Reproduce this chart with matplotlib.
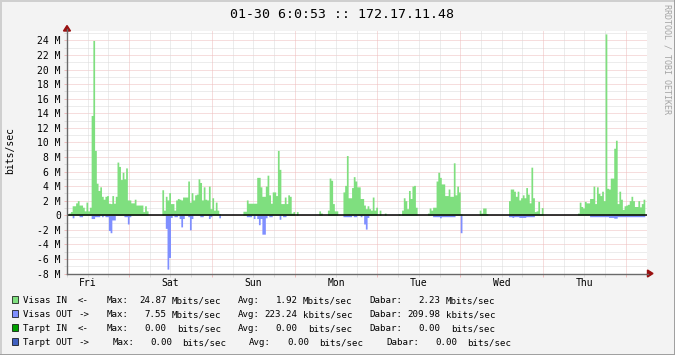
import numpy as np
import matplotlib
matplotlib.use('Agg')
import matplotlib.pyplot as plt
from matplotlib.patches import Polygon, Rectangle
from matplotlib.lines import Line2D

# half-hour samples over one week, in Mbits/sec
VISAS_IN = [
    0.1, 0.3, 0.5, 1.3, 1.3, 1.7, 2.0, 1.4, 1.4, 1.1, 0.6, 1.8,
    0.6, 1.1, 13.7, 24.0, 8.9, 4.4, 3.4, 3.9, 2.6, 2.2, 2.6, 2.7,
    1.65, 1.6, 2.7, 1.65, 2.6, 7.3, 6.7, 4.9, 5.9, 5.0, 6.5, 2.1,
    2.1, 1.7, 1.7, 2.2, 1.4, 1.4, 1.4, 1.4, 0.5, 1.3, 0.6, 0,
    0, 0, 0, 0, 0, 0, 0, 3.5, 0.7, 2.6, 2.1, 3.1,
    1.6, 1.6, 0.7, 2.1, 2.3, 2.2, 2.1, 2.5, 2.5, 2.5, 4.7, 1.8,
    3.1, 2.1, 2.8, 2.9, 5.0, 4.5, 2.1, 3.9, 2.2, 2.1, 4.0, 0.9,
    2.4, 0.7, 1.8, 0.7, 0.2, 0, 0, 0, 0, 0, 0, 0,
    0, 0, 0, 0, 0, 0, 0.55, 0.55, 2.1, 1.65, 1.65, 1.65,
    1.65, 1.65, 5.2, 5.2, 3.9, 2.6, 2.6, 4.0, 5.5, 2.8, 1.65, 3.2,
    3.2, 2.7, 8.9, 6.3, 1.6, 1.6, 2.5, 1.6, 2.8, 2.6, 0.3, 0.5,
    0, 0.5, 0, 0, 0, 0, 0, 0, 0, 0, 0, 0,
    0, 0, 0.6, 0.3, 0, 0, 0, 0.7, 5.1, 4.8, 1.6, 0.6,
    0.6, 0, 0, 0, 3.2, 4.1, 8.2, 2.4, 2.4, 3.8, 5.3, 4.7,
    3.9, 3.9, 2.3, 2.3, 1.4, 0.9, 1.3, 0.9, 0.7, 2.5, 0.7, 1.1,
    0, 0.7, 0, 0, 0.3, 0, 0, 0, 0, 0, 0, 0,
    0.2, 0, 0.7, 2.4, 2.0, 0.9, 3.4, 2.3, 4.0, 4.1, 1.1, 0,
    0, 0, 0, 0, 0, 0.3, 1.0, 0.7, 1.1, 1.1, 4.7, 5.9,
    5.2, 4.3, 4.3, 2.7, 2.7, 3.6, 2.6, 2.6, 7.2, 2.8, 4.0, 3.2,
    0.2, 0, 0, 0, 0, 0, 0, 0, 0, 0, 0, 0.7,
    0.3, 1.0, 1.0, 0.2, 0, 0, 0, 0, 0, 0, 0, 0,
    0, 0, 0, 0, 2.0, 3.6, 3.6, 3.3, 2.6, 3.3, 2.1, 2.4,
    2.8, 2.4, 3.8, 2.9, 1.7, 6.6, 2.4, 0.5, 0.6, 1.9, 0.2, 1.05,
    0, 0, 0, 0, 0, 0, 0, 0, 0, 0, 0, 0,
    0, 0, 0, 0, 0, 0, 0, 0, 0.3, 1.8, 1.2, 1.0,
    1.9, 1.7, 1.7, 2.3, 2.3, 4.0, 1.6, 3.9, 3.0, 2.7, 3.3, 2.0,
    24.9, 3.7, 3.6, 5.1, 5.1, 9.2, 10.3, 1.6, 3.3, 2.2, 0.8, 1.3,
    1.4, 1.5, 2.0, 2.6, 2.0, 1.2, 1.2, 2.0, 1.15, 1.6, 2.2, 0,
]
VISAS_OUT = [
    0, 0, 0, 0.35, 0, 0, 0, 0.2, 0.2, 0, 0, 0,
    0, 0, 0.45, 0.45, 0.2, 0.2, 0.2, 0, 0.2, 0, 0.2, 0.2,
    2.1, 2.4, 0.65, 0.65, 0, 0, 0, 0, 0, 0.2, 0.2, 1.2,
    0.2, 0, 0, 0, 0, 0, 0, 0, 0, 0, 0, 0,
    0, 0, 0, 0, 0, 0, 0, 0, 0, 1.8, 7.4, 5.8,
    0.3, 0, 0.2, 0.2, 0, 0.45, 1.6, 0.45, 0, 0, 0.2, 2.0,
    0.45, 0, 0, 0, 0, 0.2, 0.2, 0, 0, 0, 0.45, 0.2,
    0, 0, 0, 0, 0.35, 0, 0, 0, 0, 0, 0, 0,
    0, 0, 0, 0, 0, 0, 0, 0, 0.2, 0.2, 0.2, 0,
    0.45, 0, 0.45, 1.3, 0.45, 2.6, 2.6, 0.35, 0, 0.2, 0.2, 0,
    0, 0, 0, 0.55, 0, 0.2, 0.2, 0, 0, 0, 0, 0,
    0, 0, 0, 0, 0, 0, 0, 0, 0, 0, 0, 0,
    0, 0, 0, 0, 0, 0, 0, 0, 0, 0, 0, 0,
    0, 0, 0, 0, 0.2, 0.2, 0.2, 0.2, 0.2, 0, 0.2, 0.2,
    0, 0, 0.2, 0, 1.2, 1.9, 0.3, 0, 0, 0, 0, 0,
    0, 0, 0, 0, 0, 0, 0, 0, 0, 0, 0, 0,
    0, 0, 0, 0, 0, 0, 0, 0, 0, 0, 0, 0,
    0, 0, 0, 0, 0, 0, 0, 0, 0.2, 0.2, 0.2, 0.2,
    0.35, 0.2, 0.2, 0.2, 0.2, 0.2, 0.2, 0.2, 0.2, 0, 0, 0,
    2.4, 0, 0, 0, 0, 0, 0, 0, 0, 0, 0, 0,
    0, 0, 0, 0, 0, 0, 0, 0, 0, 0, 0, 0,
    0, 0, 0, 0, 0.2, 0.2, 0.3, 0.2, 0.2, 0.2, 0.3, 0.3,
    0.3, 0.3, 0.2, 0.2, 0.2, 0.2, 0.2, 0, 0, 0, 0, 0,
    0, 0, 0, 0, 0, 0, 0, 0, 0, 0, 0, 0,
    0, 0, 0, 0, 0, 0, 0, 0, 0, 0, 0, 0,
    0, 0, 0, 0.2, 0.2, 0.2, 0.2, 0.2, 0.2, 0.2, 0.2, 0.2,
    0.2, 0.2, 0.3, 0.3, 0.3, 0.4, 0.4, 0.2, 0.2, 0.2, 0.2, 0.2,
    0.2, 0.2, 0.2, 0.2, 0.2, 0.2, 0.2, 0.2, 0.2, 0.2, 0.2, 0,
]
DAYS = ['Fri', 'Sat', 'Sun', 'Mon', 'Tue', 'Wed', 'Thu']
YTICKS = list(range(-8, 25, 2))

TITLE = '01-30 6:0:53 :: 172.17.11.48'
NAMES = ['Visas IN', 'Visas OUT', 'Tarpt IN', 'Tarpt OUT']
ARROWS = ['<-', '->', '<-', '->']
COLORS = ['#7fdf7f', '#7f8fff', '#00a000', '#4060c0']
MAX_VAL = [('24.87', 'Mbits/sec'), ('7.55', 'Mbits/sec'), ('0.00', 'bits/sec'), ('0.00', 'bits/sec')]
AVG_VAL = [('1.92', 'Mbits/sec'), ('223.24', 'kbits/sec'), ('0.00', 'bits/sec'), ('0.00', 'bits/sec')]
CUR_VAL = [('2.23', 'Mbits/sec'), ('209.98', 'kbits/sec'), ('0.00', 'bits/sec'), ('0.00', 'bits/sec')]

W, H = 675, 355
MONO = 'DejaVu Sans Mono'
GRID = '#dadada'
MGRID = '#efbcbc'
AXIS = '#6a6a6a'
ARROWC = '#9a1010'

fig = plt.figure(figsize=(W / 100, H / 100), dpi=100, facecolor='#f3f3f3')

def fx(x):
    return x / W

def fy(y):
    return 1 - y / H

# plot area in image pixels
X0, X1, YT, YB = 67, 646.5, 31, 273.5
ax = fig.add_axes([fx(X0), fy(YB), fx(X1) - fx(X0), fy(YT) - fy(YB)])
ax.set_facecolor('white')
ax.set_xlim(0, 168)
ax.set_ylim(-8, 25.3)

# grid
for v in range(-7, 26):
    ax.axhline(v, color=MGRID if v % 2 == 0 else GRID, lw=0.72, ls=(0, (1, 1)), zorder=0.5)
for h in range(6, 169, 6):
    ax.axvline(h, color=MGRID if (h - 18) % 24 == 0 else GRID, lw=0.72, ls=(0, (1, 1)), zorder=0.5)

t = np.arange(len(VISAS_IN) + 1) * 0.5
vin = np.array(VISAS_IN)
vout = np.array(VISAS_OUT)
ax.fill_between(t, np.append(vin, vin[-1]), step='post', color=COLORS[0], lw=0, zorder=2)
ax.fill_between(t, -np.append(vout, vout[-1]), step='post', color=COLORS[1], lw=0, zorder=2)
ax.axhline(0, color='black', lw=1.1, zorder=3)

for s in ['top', 'right']:
    ax.spines[s].set_visible(False)
for s in ['left', 'bottom']:
    ax.spines[s].set_color(AXIS)
    ax.spines[s].set_linewidth(1.0)
    ax.spines[s].set_zorder(4)

ax.set_yticks(YTICKS)
ax.set_yticklabels([('%d M' % v) if v else '0' for v in YTICKS], family=MONO, fontsize=7)
ax.set_yticks(range(-8, 26), minor=True)
ax.tick_params(axis='y', which='major', length=2.5, width=0.72, color=MGRID, pad=2)
ax.tick_params(axis='y', which='minor', length=2.5, width=0.72, color=GRID)
ax.set_xticks(range(18, 168, 24))
ax.set_xticklabels([])
ax.set_xticks(range(0, 169, 6), minor=True)
ax.tick_params(axis='x', which='major', length=2.5, width=0.72, color=MGRID)
ax.tick_params(axis='x', which='minor', length=2.5, width=0.72, color=GRID)
for i, d in enumerate(DAYS):
    ax.annotate(d, (6 + 24 * i, 0), xycoords=('data', 'axes fraction'),
                xytext=(0, -3), textcoords='offset points',
                ha='center', va='top', family=MONO, fontsize=7)

# axis arrows
fig.add_artist(Line2D([fx(X0), fx(X0)], [fy(YT), fy(29)], color=AXIS, lw=1.0))
fig.add_artist(Line2D([fx(X1), fx(648)], [fy(YB), fy(YB)], color=AXIS, lw=1.0))
fig.add_artist(Polygon([(fx(67), fy(25.5)), (fx(63.5), fy(31)), (fx(70.5), fy(31))],
                       closed=True, color=ARROWC, transform=fig.transFigure))
fig.add_artist(Polygon([(fx(653), fy(YB)), (fx(647.5), fy(YB - 3.5)), (fx(647.5), fy(YB + 3.5))],
                       closed=True, color=ARROWC, transform=fig.transFigure))

# texts
fig.text(fx(341.5), fy(14), TITLE, ha='center', va='center', family=MONO, fontsize=9.5)
fig.text(fx(10), fy(150), 'bits/sec', rotation=90, ha='center', va='center', family=MONO, fontsize=7)
fig.text(fx(667), fy(4), 'RRDTOOL / TOBI OETIKER', rotation=270, ha='center', va='top',
         family=MONO, fontsize=6, color='#a4a4a4')

# legend
LFS = 6.6
for r in range(4):
    base = 303.3 + 14 * r
    fig.add_artist(Rectangle((fx(12), fy(base - 0.7)), fx(6.3), fy(0) - fy(6.3),
                             transform=fig.transFigure, facecolor=COLORS[r],
                             edgecolor='black', lw=0.5))
    fig.text(fx(23.3), fy(base), NAMES[r], va='baseline', family=MONO, fontsize=LFS)
    fig.text(fx(78), fy(base), ARROWS[r], va='baseline', family=MONO, fontsize=LFS)
    if r < 3:
        lab_x, val_x = [106.7, 238.3, 369.3], [166.5, 297.8, 440.5]
    else:
        lab_x, val_x = [112.3, 249.3, 386], [172, 309.2, 457]
    for c, (lab, vals) in enumerate(zip(['Max:', 'Avg:', 'Dabar:'], [MAX_VAL, AVG_VAL, CUR_VAL])):
        num, unit = vals[r]
        fig.text(fx(lab_x[c]), fy(base), lab, va='baseline', family=MONO, fontsize=LFS)
        fig.text(fx(val_x[c]), fy(base), num, ha='right', va='baseline', family=MONO, fontsize=LFS)
        off = 5.2 if unit[0] in 'Mk' else 10.3
        fig.text(fx(val_x[c] + off), fy(base), unit, va='baseline', family=MONO, fontsize=LFS)

# frame shading
fig.add_artist(Line2D([0, 1], [fy(0.5), fy(0.5)], color='#cfcfcf', lw=1.4))
fig.add_artist(Line2D([fx(0.5), fx(0.5)], [0, 1], color='#cfcfcf', lw=1.4))
fig.add_artist(Line2D([0, 1], [fy(H - 0.5), fy(H - 0.5)], color='#9e9e9e', lw=1.4))
fig.add_artist(Line2D([fx(W - 0.5), fx(W - 0.5)], [0, 1], color='#9e9e9e', lw=1.4))

fig.savefig('out.png', dpi=100, facecolor=fig.get_facecolor())
